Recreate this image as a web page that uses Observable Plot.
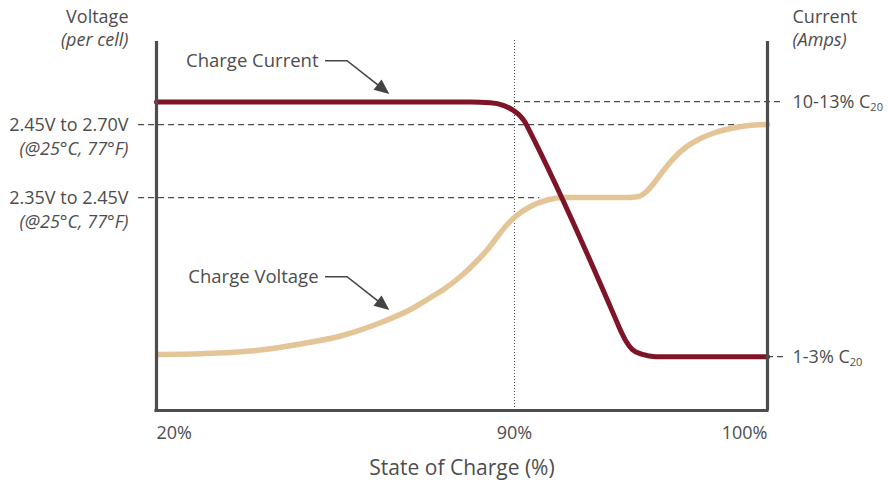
<!DOCTYPE html>
<html><head><meta charset="utf-8">
<script src="https://cdn.jsdelivr.net/npm/d3@7"></script>
<script src="https://cdn.jsdelivr.net/npm/@observablehq/plot@0.6"></script>
<style>html,body{margin:0;padding:0;background:#fff} svg{display:block}</style>
</head><body><div id="chart"></div>
<script>
// x: state of charge (%), piecewise axis with breaks at 20, 90, 100
const xBreaks = [20, 90, 100];
const xTickLabels = ["20%", "90%", "100%"];

// y: relative level (0 = bottom of chart, 100 = top of axes)
const voltageSoc   = [20.39, 28.60, 38.38, 48.16, 55.98, 64.39, 69.67, 73.58, 76.12, 79.44, 82.37, 84.72, 86.68, 88.24, 90.04, 90.63, 91.30, 91.94, 94.51, 94.90, 95.22, 95.53, 95.89, 96.28, 96.76, 97.35, 97.94, 98.54, 99.25, 100];
const voltageLevel = [15.18, 15.39, 16.12, 18.02, 20.19, 24.12, 27.37, 30.62, 32.79, 36.31, 40.11, 43.63, 47.15, 49.86, 52.57, 55.28, 57.05, 57.72, 57.72, 57.99, 59.35, 61.79, 65.04, 68.29, 71.27, 73.71, 75.34, 76.42, 77.24, 77.51];

const currentSoc   = [20, 81.4, 85.3, 87.8, 89.8, 90.24, 90.43, 90.55, 93.99, 94.19, 94.39, 94.66, 95.06, 95.57, 100];
const currentLevel = [83.6, 83.6, 83.4, 82.7, 81.3, 79.7, 78.0, 76.4, 24.9, 21.7, 19.0, 16.5, 15.2, 14.6, 14.6];

// reference (dashed) lines
const refLevels = [83.7, 77.5, 57.7, 14.6];
const refFrom   = [90, 16.5, 16.5, 100];
const refTo     = [100.65, 100, 91.0, 100.65];

// axis labels
const voltageTitle = ["Voltage", "(per cell)"];
const currentTitle = ["Current", "(Amps)"];
const voltageLabels = ["2.45V to 2.70V", "2.35V to 2.45V"];
const voltageLabelLevels = [77.5, 57.7];
const tempNote = "(@25°C, 77°F)";
const currentLabels = ["10-13% C", "1-3% C"];
const currentSubs = ["20", "20"];
const currentLabelLevels = [83.7, 14.6];
const xTitle = "State of Charge (%)";

// annotations: label + arrow polyline (soc, level)
const annotationLabels = ["Charge Current", "Charge Voltage"];
const annotationPaths = [
  [[53.05, 94.66], [57.35, 94.66], [65.62, 85.64]],
  [[53.05, 36.12], [57.35, 36.12], [65.62, 27.10]]
];

const ink = "#4d4d4d";
const voltage = voltageSoc.map((x, i) => ({x, y: voltageLevel[i]}));
const current = currentSoc.map((x, i) => ({x, y: currentLevel[i]}));
const refs = refLevels.map((y, i) => ({y, x1: refFrom[i], x2: refTo[i]}));
const anns = annotationLabels.map((label, i) => ({label, x: annotationPaths[i][0][0], y: annotationPaths[i][0][1]}));

function arrows(index, scales) {
  const g = d3.create("svg:g");
  for (const path of annotationPaths) {
    const pts = path.map(([x, y]) => [scales.x(x), scales.y(y)]);
    const n = pts.length;
    const [px, py] = pts[n - 2], [tx, ty] = pts[n - 1];
    const len = Math.hypot(tx - px, ty - py), ux = (tx - px) / len, uy = (ty - py) / len;
    const hl = 15, hw = 6.5;
    const bx = tx - ux * hl, by = ty - uy * hl;
    const linePts = pts.slice(0, n - 1).concat([[bx + ux * 2, by + uy * 2]]);
    g.append("path").attr("d", "M" + linePts.map(p => p.join(",")).join("L"))
      .attr("fill", "none").attr("stroke", "#444").attr("stroke-width", 1.6);
    g.append("path").attr("d", `M${tx},${ty}L${bx - uy * hw},${by + ux * hw}L${bx + uy * hw},${by - ux * hw}Z`)
      .attr("fill", "#444");
  }
  return g.node();
}

const plot = Plot.plot({
  width: 888, height: 483,
  marginLeft: 156, marginRight: 121, marginTop: 41, marginBottom: 73,
  x: {type: "linear", domain: xBreaks, range: [156, 514, 767], axis: null},
  y: {domain: [0, 100], axis: null},
  style: {fontFamily: "'Open Sans', sans-serif", fontSize: "18px", color: ink, background: "#fff", overflow: "visible"},
  marks: [
    Plot.ruleY(refs, {y: "y", x1: "x1", x2: "x2", stroke: ink, strokeWidth: 1.3, strokeDasharray: "6,4"}),
    Plot.ruleX([90], {y1: 0, y2: 100.5, stroke: ink, strokeWidth: 1, strokeDasharray: "1,2"}),
    Plot.line(voltage, {x: "x", y: "y", stroke: "#e3c598", strokeWidth: 5.5, curve: "monotone-x"}),
    Plot.line(current, {x: "x", y: "y", stroke: "#7d1427", strokeWidth: 5, curve: "monotone-x"}),
    Plot.ruleX([20, 100], {y1: 0, y2: 100, stroke: ink, strokeWidth: 3.2}),
    Plot.ruleY([0], {x1: 20, x2: 100, stroke: ink, strokeWidth: 3.2, strokeLinecap: "square"}),
    // x tick labels
    Plot.text([xBreaks[0]], {x: d => d, y: 0, text: () => xTickLabels[0], textAnchor: "start", lineAnchor: "middle", dy: 23, fill: ink}),
    Plot.text([xBreaks[1]], {x: d => d, y: 0, text: () => xTickLabels[1], textAnchor: "middle", lineAnchor: "middle", dy: 23, fill: ink}),
    Plot.text([xBreaks[2]], {x: d => d, y: 0, text: () => xTickLabels[2], textAnchor: "end", lineAnchor: "middle", dy: 23, fill: ink}),
    Plot.text([xTitle], {frameAnchor: "bottom", text: d => d, lineAnchor: "middle", dy: 58, fontSize: 21, fill: ink}),
    // left titles
    Plot.text([voltageTitle[0]], {frameAnchor: "top-left", text: d => d, textAnchor: "end", lineAnchor: "middle", dx: -28, dy: -24.5, fill: ink}),
    Plot.text([voltageTitle[1]], {frameAnchor: "top-left", text: d => d, textAnchor: "end", lineAnchor: "middle", dx: -28, dy: -1.5, fontStyle: "italic", fill: ink}),
    Plot.text(voltageLabels, {x: 20, y: (d, i) => voltageLabelLevels[i], text: d => d, textAnchor: "end", lineAnchor: "middle", dx: -28, dy: 1, fill: ink}),
    Plot.text(voltageLabels, {x: 20, y: (d, i) => voltageLabelLevels[i], text: () => tempNote, textAnchor: "end", lineAnchor: "middle", dx: -28, dy: 25, fontStyle: "italic", fill: ink}),
    // right titles
    Plot.text([currentTitle[0]], {frameAnchor: "top-right", text: d => d, textAnchor: "start", lineAnchor: "middle", dx: 25, dy: -24.5, fill: ink}),
    Plot.text([currentTitle[1]], {frameAnchor: "top-right", text: d => d, textAnchor: "start", lineAnchor: "middle", dx: 25, dy: -1.5, fontStyle: "italic", fill: ink}),
    Plot.text(currentLabels, {x: 100, y: (d, i) => currentLabelLevels[i], text: d => d, textAnchor: "start", lineAnchor: "middle", dx: 25, dy: 0.5, fill: ink}),
    // annotations
    Plot.text(anns, {x: "x", y: "y", text: "label", textAnchor: "end", lineAnchor: "middle", dx: -7, fontSize: 18.5, fill: ink}),
    arrows
  ]
});

// add subscripts to the current labels
d3.select(plot).selectAll("text").each(function() {
  const t = this.textContent;
  const i = currentLabels.indexOf(t);
  if (i >= 0) {
    d3.select(this).append("tspan").attr("dy", "0.3em").attr("font-size", 11).text(currentSubs[i]);
  }
});

document.getElementById("chart").appendChild(plot);
</script>
</body></html>
